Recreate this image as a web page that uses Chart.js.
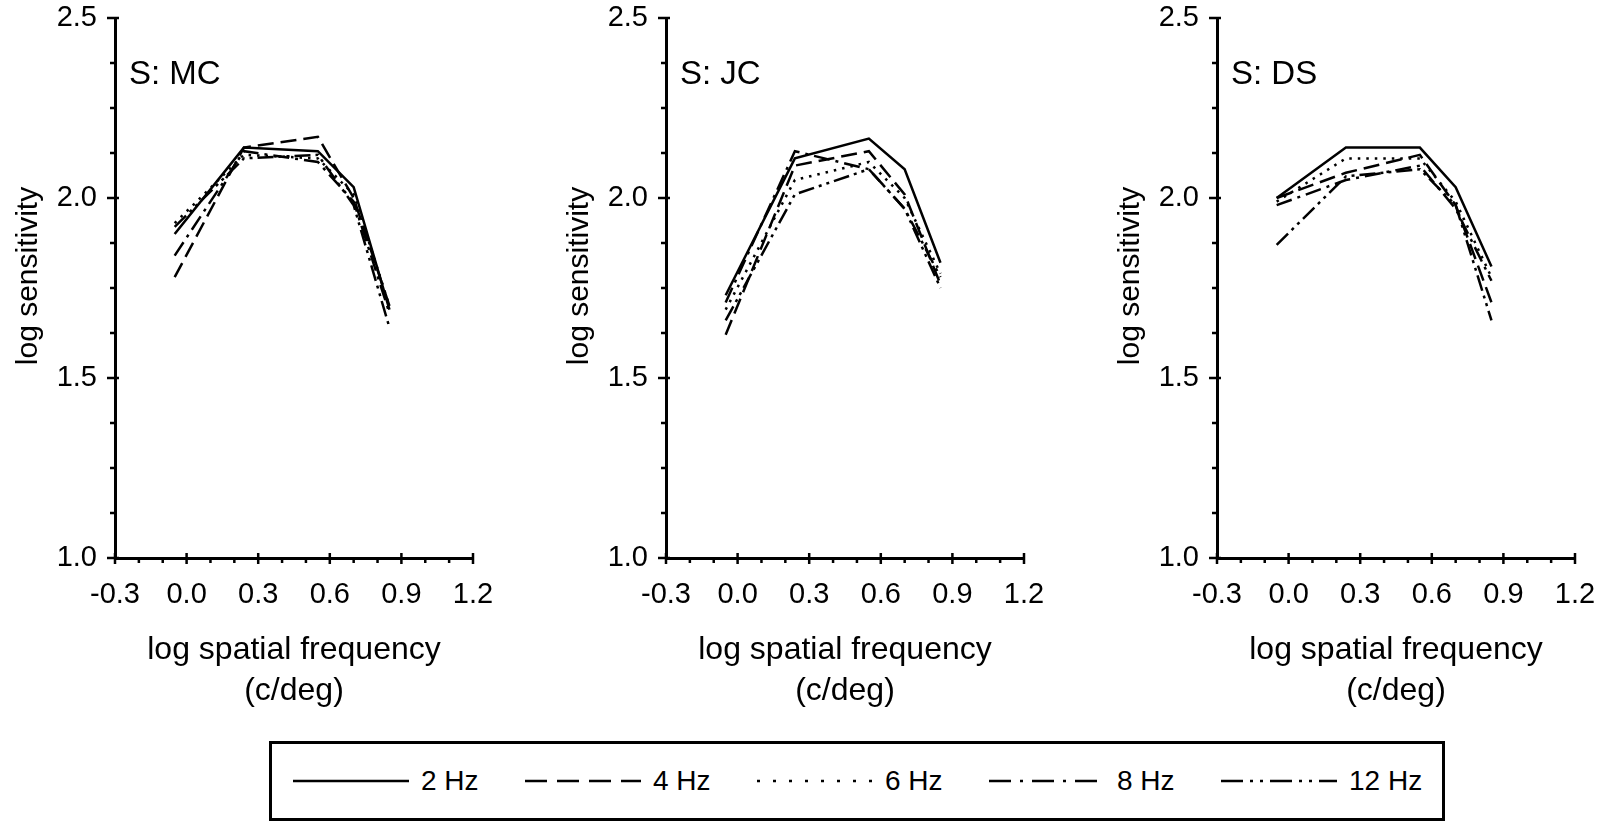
<!DOCTYPE html>
<html>
<head>
<meta charset="utf-8">
<script src="https://cdn.jsdelivr.net/npm/chart.js@4.4.1/dist/chart.umd.min.js"></script>
<style>
  html, body { margin: 0; padding: 0; background: #fff; overflow: hidden; }
  body { width: 1602px; height: 821px; position: relative; font-family: "Liberation Sans", Arial, sans-serif; color: #000; }
  canvas.panel { position: absolute; top: 0; }
  #legend { position: absolute; left: 269px; top: 741px; width: 1176px; height: 80px; border: 3px solid #000; box-sizing: border-box; }
  .item { position: absolute; top: 0; height: 100%; display: flex; align-items: center; font-size: 28px; white-space: nowrap; }
  .item svg { margin-right: 12px; }
</style>
</head>
<body>
<canvas id="mc" class="panel" width="500" height="720" style="left:0px"></canvas>
<canvas id="jc" class="panel" width="500" height="720" style="left:551px"></canvas>
<canvas id="ds" class="panel" width="500" height="720" style="left:1102px"></canvas>
<div id="legend"></div>
<script>
// temporal frequencies (one curve each)
const hzLabels = ['2 Hz', '4 Hz', '6 Hz', '8 Hz', '12 Hz'];
// log spatial frequency of the five test gratings
const logFreq = [-0.05, 0.24, 0.55, 0.70, 0.85];

// log sensitivity, rows = 2, 4, 6, 8, 12 Hz
const mcSens = [
  [1.90, 2.14, 2.13, 2.03, 1.69],
  [1.78, 2.14, 2.17, 2.00, 1.70],
  [1.93, 2.12, 2.11, 2.01, 1.70],
  [1.84, 2.13, 2.10, 1.99, 1.68],
  [1.92, 2.11, 2.12, 1.98, 1.64]
];
const jcSens = [
  [1.73, 2.11, 2.165, 2.08, 1.82],
  [1.62, 2.09, 2.13, 2.01, 1.76],
  [1.69, 2.05, 2.10, 2.00, 1.79],
  [1.71, 2.13, 2.08, 1.97, 1.78],
  [1.66, 2.01, 2.08, 1.97, 1.75]
];
const dsSens = [
  [2.00, 2.14, 2.14, 2.03, 1.81],
  [2.00, 2.07, 2.12, 1.98, 1.71],
  [1.99, 2.11, 2.11, 1.99, 1.78],
  [1.98, 2.05, 2.09, 1.97, 1.77],
  [1.87, 2.06, 2.08, 1.98, 1.66]
];
const subjects = ['S: MC', 'S: JC', 'S: DS'];

const xTicks = [-0.3, 0.0, 0.3, 0.6, 0.9, 1.2];
const yTicks = [1.0, 1.5, 2.0, 2.5];

// line styles per temporal frequency
const chartDash = [[], [16, 7], [2.5, 6], [16, 6, 3, 6], [16, 5, 3, 5, 3, 5]];
const legendDash = ['', '22 10', '3 13', '22 9 3 9', '22 7 3 7 3 7'];

const FONT = '"Liberation Sans", Arial, Helvetica, sans-serif';
Chart.defaults.font.family = FONT;
Chart.defaults.color = '#000';

// major ticks cross the axis, minor ticks sit outside
const tickMarks = {
  id: 'tickMarks',
  afterDraw(chart) {
    const { ctx, chartArea, scales } = chart;
    const x = scales.x, y = scales.y;
    const ax = chartArea.left, ay = chartArea.bottom;
    ctx.save();
    ctx.strokeStyle = '#000';
    ctx.lineWidth = 2.5;
    ctx.beginPath();
    yTicks.forEach(v => {
      const p = y.getPixelForValue(v);
      ctx.moveTo(ax - 8, p); ctx.lineTo(ax + 4, p);
    });
    for (let v = y.min + 0.125; v < y.max; v += 0.125) {
      if (yTicks.some(t => Math.abs(t - v) < 1e-6)) continue;
      const p = y.getPixelForValue(v);
      ctx.moveTo(ax - 5, p); ctx.lineTo(ax, p);
    }
    xTicks.forEach(v => {
      const p = x.getPixelForValue(v);
      ctx.moveTo(p, ay - 5); ctx.lineTo(p, ay + 6);
    });
    for (let v = x.min + 0.1; v < x.max - 0.05; v += 0.1) {
      if (xTicks.some(t => Math.abs(t - v) < 1e-6)) continue;
      const p = x.getPixelForValue(v);
      ctx.moveTo(p, ay); ctx.lineTo(p, ay + 5);
    }
    ctx.stroke();
    ctx.restore();
  }
};

// subject tag and the rotated y title
const panelText = {
  id: 'panelText',
  afterDraw(chart, args, opts) {
    const { ctx, chartArea } = chart;
    ctx.save();
    ctx.fillStyle = '#000';
    ctx.textBaseline = 'middle';
    ctx.font = '33px ' + FONT;
    ctx.fillText(opts.tag, chartArea.left + 14, chartArea.top + 57);
    ctx.translate(29, chartArea.top + 258);
    ctx.rotate(-Math.PI / 2);
    ctx.textAlign = 'center';
    ctx.font = '30px ' + FONT;
    ctx.fillText(opts.yTitle, 0, 0);
    ctx.restore();
  }
};

function makePanel(id, label, rows) {
  const datasets = rows.map((vals, i) => ({
    label: hzLabels[i],
    data: vals.map((v, j) => ({ x: logFreq[j], y: v })),
    borderColor: '#000',
    borderWidth: 2.5,
    borderDash: chartDash[i],
    pointRadius: 0,
    tension: 0,
    fill: false
  }));

  return new Chart(document.getElementById(id), {
    type: 'line',
    data: { datasets },
    plugins: [tickMarks, panelText],
    options: {
      responsive: false,
      animation: false,
      devicePixelRatio: 1,
      layout: { padding: { top: 18, right: 27, bottom: 0, left: 0 } },
      plugins: {
        legend: { display: false },
        tooltip: { enabled: false },
        panelText: { tag: label, yTitle: 'log sensitivity' }
      },
      scales: {
        x: {
          type: 'linear',
          min: -0.3,
          max: 1.2,
          afterBuildTicks: s => { s.ticks = xTicks.map(v => ({ value: v })); },
          afterFit: s => { s.height = 162; s.paddingLeft = 0; s.paddingRight = 0; },
          grid: { display: false, drawTicks: false },
          border: { display: true, color: '#000', width: 3 },
          ticks: {
            callback: v => v.toFixed(1),
            font: { size: 29 },
            padding: 20,
            maxRotation: 0,
            autoSkip: false
          },
          title: {
            display: true,
            text: ['log spatial frequency', '(c/deg)'],
            font: { size: 32, lineHeight: 1.28 },
            padding: { top: 0, bottom: 8 }
          }
        },
        y: {
          type: 'linear',
          min: 1.0,
          max: 2.5,
          afterBuildTicks: s => { s.ticks = yTicks.map(v => ({ value: v })); },
          afterFit: s => { s.width = 115; s.paddingTop = 0; s.paddingBottom = 0; },
          grid: { display: false, drawTicks: false },
          border: { display: true, color: '#000', width: 3 },
          ticks: {
            callback: v => v.toFixed(1),
            font: { size: 29 },
            padding: 18
          },
          title: { display: false }
        }
      }
    }
  });
}

makePanel('mc', subjects[0], mcSens);
makePanel('jc', subjects[1], jcSens);
makePanel('ds', subjects[2], dsSens);

// shared legend box under the panels
const legend = document.getElementById('legend');
hzLabels.forEach((name, i) => {
  const item = document.createElement('div');
  item.className = 'item';
  item.style.left = (21 + i * 232) + 'px';
  const dash = legendDash[i] ? ` stroke-dasharray="${legendDash[i]}"` : '';
  item.innerHTML = `<svg width="116" height="10"><line x1="0" y1="5" x2="116" y2="5" stroke="#000" stroke-width="2.5"${dash}/></svg><span>${name}</span>`;
  legend.appendChild(item);
});
</script>
</body>
</html>
